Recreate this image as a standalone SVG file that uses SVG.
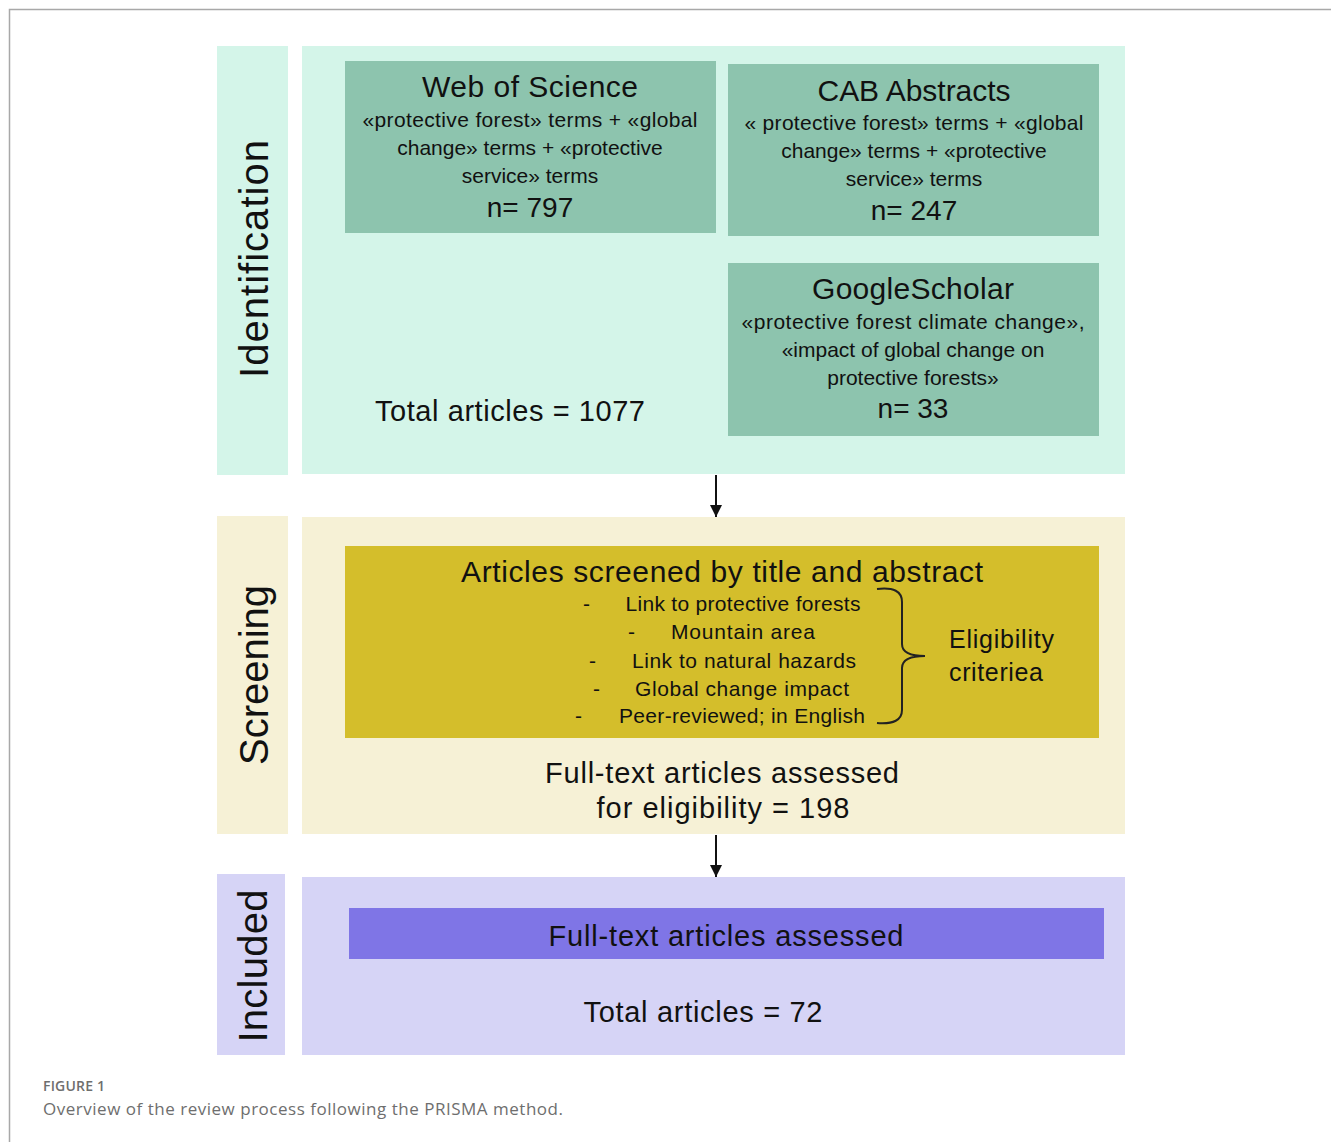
<svg xmlns="http://www.w3.org/2000/svg" width="1331" height="1142" viewBox="0 0 1331 1142">
<defs>
<style>
text{font-family:"Liberation Sans","DejaVu Sans",Arial,sans-serif;fill:#111;}
.c{text-anchor:middle;}
.t{font-size:30px;}
.b{font-size:21px;}
.n{font-size:28px;}
.big{font-size:29px;}
.lab{font-size:40px;text-anchor:middle;}
.li{font-size:21px;}
.cap1{font-family:"Open Sans","Liberation Sans",sans-serif;font-size:14px;fill:#6e6e6e;font-weight:600;}
.cap2{font-family:"Open Sans","Liberation Sans",sans-serif;font-size:17px;fill:#6e6e6e;}
.idl{fill:#d4f5e9;}
.idb{fill:#8dc4ae;}
.scl{fill:#f6f1d6;}
.scb{fill:#d4be2b;}
.inl{fill:#d6d4f6;}
.inb{fill:#7f75e6;}
</style>
<marker id="ah" markerWidth="12" markerHeight="12" refX="12" refY="6" orient="auto" markerUnits="userSpaceOnUse" viewBox="0 0 12 12">
<path d="M0,0 L12,6 L0,12 Z" fill="#111"/>
</marker>
</defs>
<rect width="1331" height="1142" fill="#fff"/>
<path d="M1331 9.5 H9.5 V1142" fill="none" stroke="#a8a8a8" stroke-width="1.5"/>

<g id="identification">
<rect class="idl" x="217" y="46" width="71" height="429"/>
<rect class="idl" x="302" y="46" width="823" height="428"/>
<text class="lab" transform="translate(268 259) rotate(-90)" textLength="238">Identification</text>
<text class="big c" x="510" y="421" textLength="270">Total articles = 1077</text>
</g>

<g id="wos">
<rect class="idb" x="345" y="61" width="371" height="172"/>
<text class="t c" x="530" y="97" textLength="216">Web of Science</text>
<text class="b c" x="530" y="127" textLength="335">«protective forest» terms + «global</text>
<text class="b c" x="530" y="155">change» terms + «protective</text>
<text class="b c" x="530" y="183">service» terms</text>
<text class="n c" x="530" y="217">n= 797</text>
</g>

<g id="cab">
<rect class="idb" x="728" y="64" width="371" height="172"/>
<text class="t c" x="914" y="101" textLength="193">CAB Abstracts</text>
<text class="b c" x="914" y="130" textLength="339">« protective forest» terms + «global</text>
<text class="b c" x="914" y="158">change» terms + «protective</text>
<text class="b c" x="914" y="186">service» terms</text>
<text class="n c" x="914" y="220">n= 247</text>
</g>

<g id="scholar">
<rect class="idb" x="728" y="263" width="371" height="173"/>
<text class="t c" x="913" y="299" textLength="202">GoogleScholar</text>
<text class="b c" x="913" y="329" textLength="343">«protective forest climate change»,</text>
<text class="b c" x="913" y="357">«impact of global change on</text>
<text class="b c" x="913" y="385">protective forests»</text>
<text class="n c" x="913" y="418">n= 33</text>
</g>

<g id="screening">
<rect class="scl" x="217" y="516" width="71" height="318"/>
<rect class="scl" x="302" y="517" width="823" height="317"/>
<text class="lab" transform="translate(268 675) rotate(-90)" textLength="180">Screening</text>
<text class="big c" x="722" y="783" textLength="354">Full-text articles assessed</text>
<text class="big c" x="723" y="818" textLength="253">for eligibility = 198</text>
</g>

<g id="screen-box">
<rect class="scb" x="345" y="546" width="754" height="192"/>
<text class="t c" x="722" y="582" textLength="522">Articles screened by title and abstract</text>
<text class="li" x="583" y="611">-</text>
<text class="li c" x="743" y="611" textLength="235">Link to protective forests</text>
<text class="li" x="628" y="639">-</text>
<text class="li c" x="743" y="639" textLength="144">Mountain area</text>
<text class="li" x="589" y="668">-</text>
<text class="li c" x="744" y="668" textLength="224">Link to natural hazards</text>
<text class="li" x="593" y="696">-</text>
<text class="li c" x="742" y="696" textLength="214">Global change impact</text>
<text class="li" x="575" y="723">-</text>
<text class="li c" x="742" y="723" textLength="246">Peer-reviewed; in English</text>
<path d="M877 589 Q902 586 902 602 V644 Q902 656 925 656 Q902 656 902 668 V710 Q902 725 877 723" fill="none" stroke="#222" stroke-width="2"/>
<text x="949" y="648" style="font-size:25px" textLength="105">Eligibility</text>
<text x="949" y="681" style="font-size:25px" textLength="94">criteriea</text>
</g>

<g id="included">
<rect class="inl" x="217" y="874" width="68" height="181"/>
<rect class="inl" x="302" y="877" width="823" height="178"/>
<text class="lab" transform="translate(267 966) rotate(-90)" textLength="153">Included</text>
<rect class="inb" x="349" y="908" width="755" height="51"/>
<text class="big c" x="726" y="946" textLength="355">Full-text articles assessed</text>
<text class="big c" x="703" y="1022" textLength="239">Total articles = 72</text>
</g>

<g id="connectors" stroke="#111" stroke-width="2" fill="none">
<line x1="716" y1="475" x2="716" y2="517" marker-end="url(#ah)"/>
<line x1="716" y1="835" x2="716" y2="877" marker-end="url(#ah)"/>
</g>

<g id="caption">
<text class="cap1" x="43" y="1091" textLength="62">FIGURE 1</text>
<text class="cap2" x="43" y="1115" textLength="520">Overview of the review process following the PRISMA method.</text>
</g>
</svg>
